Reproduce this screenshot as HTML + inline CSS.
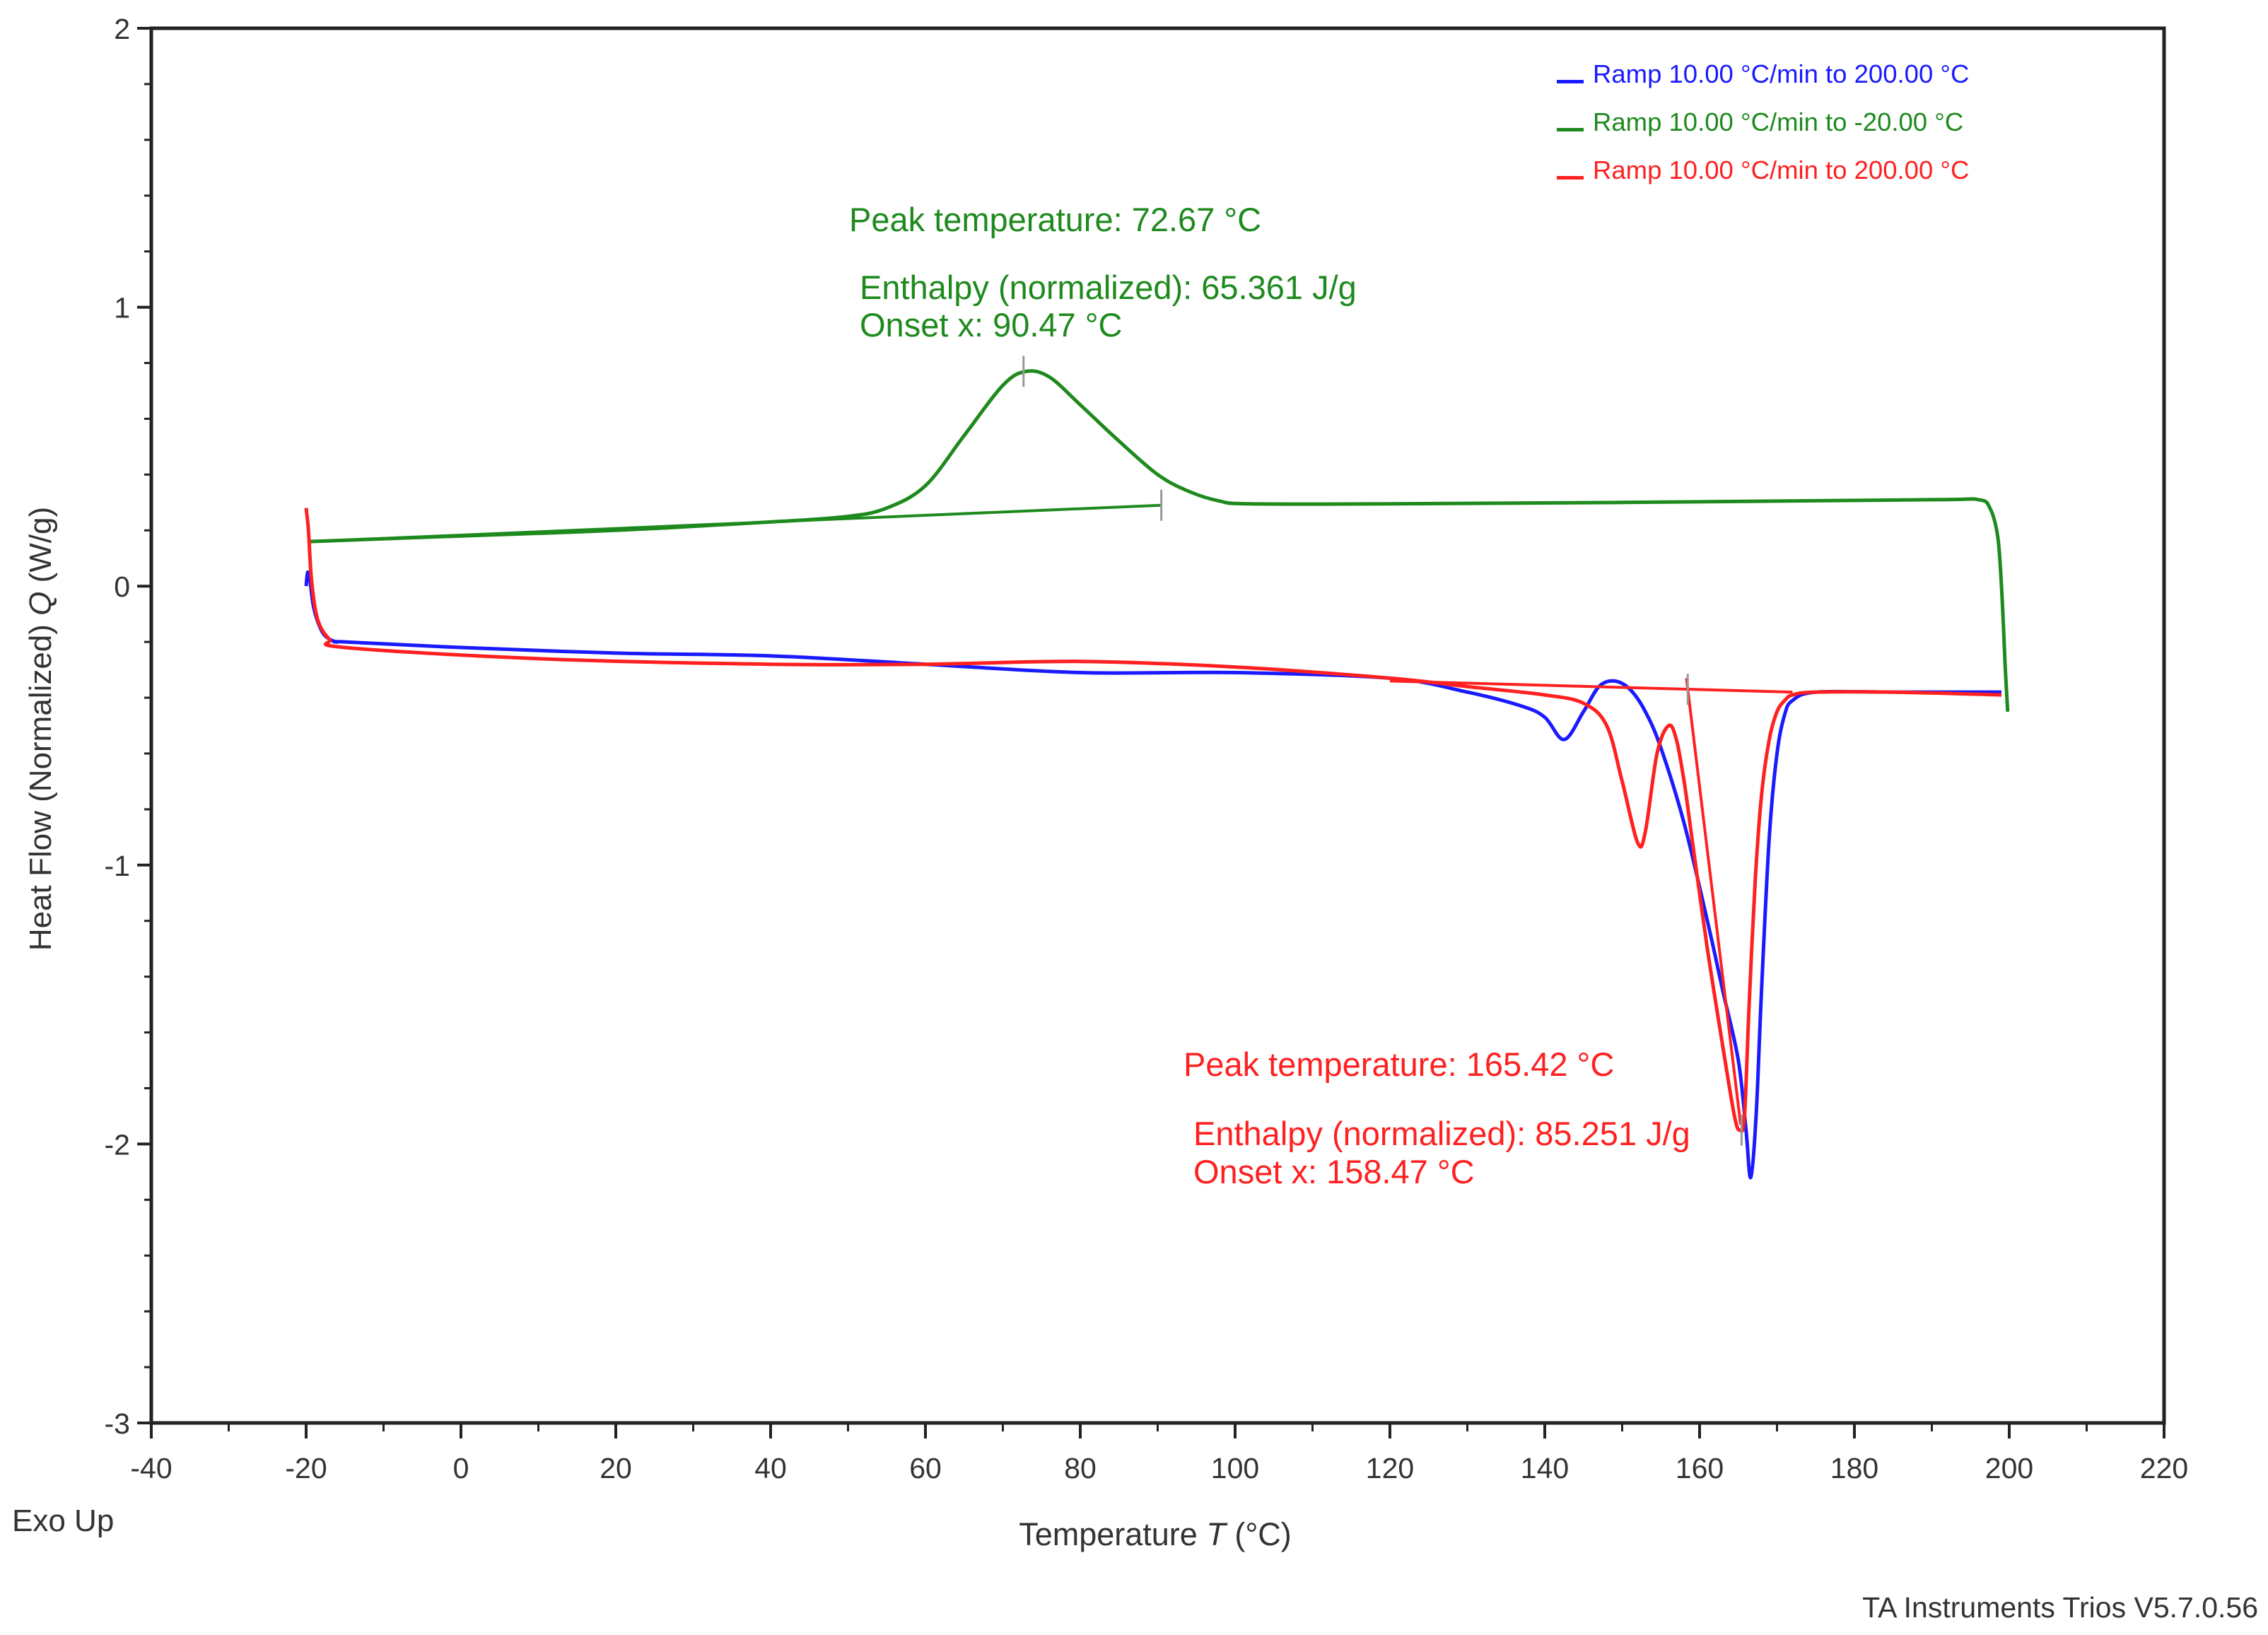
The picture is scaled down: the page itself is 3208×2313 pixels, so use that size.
<!DOCTYPE html>
<html><head><meta charset="utf-8"><style>
html,body{margin:0;padding:0;background:#fff;}
svg{display:block;font-family:"Liberation Sans",sans-serif;}
</style></head><body>
<svg id="chart" width="3208" height="2313" viewBox="0 0 3208 2313" xmlns="http://www.w3.org/2000/svg">
<g id="grid"></g>
<g id="series"></g>
<rect x="214" y="40" width="2847" height="1973" fill="none" stroke="#222" stroke-width="5"/>
<g id="ticks"></g>
<text transform="translate(72,1031) rotate(-90)" text-anchor="middle" font-size="44" fill="#333">Heat Flow (Normalized) <tspan font-style="italic">Q</tspan> (W/g)</text>
<text x="1634" y="2186" text-anchor="middle" font-size="45" fill="#333">Temperature <tspan font-style="italic">T</tspan> (°C)</text>
<text x="17" y="2166" font-size="44" fill="#333">Exo Up</text>
<text x="3194" y="2288" text-anchor="end" font-size="41" fill="#333">TA Instruments Trios V5.7.0.56</text>
<g>
<rect x="2202" y="113" width="38" height="5" fill="#1a1aff"/>
<text x="2253" y="117" font-size="36.5" fill="#1a1aff">Ramp 10.00 °C/min to 200.00 °C</text>
<rect x="2202" y="181" width="38" height="5" fill="#1e8a1e"/>
<text x="2253" y="185" font-size="36.5" fill="#1e8a1e">Ramp 10.00 °C/min to -20.00 °C</text>
<rect x="2202" y="249" width="38" height="5" fill="#ff2020"/>
<text x="2253" y="253" font-size="36.5" fill="#ff2020">Ramp 10.00 °C/min to 200.00 °C</text>
</g>
<g font-size="47" fill="#1e8a1e">
<text x="1201" y="327">Peak temperature: 72.67 °C</text>
<text x="1216" y="423">Enthalpy (normalized): 65.361 J/g</text>
<text x="1216" y="476">Onset x: 90.47 °C</text>
</g>
<g font-size="47" fill="#ff2020">
<text x="1674" y="1522">Peak temperature: 165.42 °C</text>
<text x="1688" y="1620">Enthalpy (normalized): 85.251 J/g</text>
<text x="1688" y="1674">Onset x: 158.47 °C</text>
</g>
</svg>
<script>
const xTicks=[-40,-20,0,20,40,60,80,100,120,140,160,180,200,220];
const yTicks=[2,1,0,-1,-2,-3];
const heat1T=[-20,-19.8,-19.5,-19,-18,-17,-16,-15,0,20,40,60,80,100,120,130,137,140,142.5,145,147,149,151,153,155,158,161,163,165,166,166.6,167.3,168,169,170,171,172,175,185,199];
const heat1Q=[0,0.05,0.02,-0.08,-0.16,-0.19,-0.2,-0.2,-0.22,-0.24,-0.25,-0.28,-0.31,-0.31,-0.33,-0.38,-0.43,-0.47,-0.55,-0.45,-0.36,-0.34,-0.37,-0.45,-0.58,-0.85,-1.2,-1.45,-1.7,-1.95,-2.12,-1.9,-1.45,-0.9,-0.6,-0.46,-0.41,-0.38,-0.38,-0.38];
const coolT=[-19.5,0,20,40,50,55,60,65,70,73,76,80,85,90,94,98,102,120,150,190,196,197.5,198.5,199,199.5,199.8];
const coolQ=[0.16,0.18,0.2,0.23,0.25,0.28,0.36,0.54,0.72,0.77,0.75,0.65,0.52,0.4,0.34,0.305,0.295,0.295,0.3,0.31,0.31,0.28,0.18,0,-0.3,-0.45];
const heat2T=[-20,-19.7,-19.3,-18.5,-17,-15,10,40,60,80,100,120,130,140,145,148,150,152,153,154.5,156,157,158,159,161,163,164.5,165.2,165.8,166.4,167.2,168,169,170,171,172,175,185,199];
const heat2Q=[0.28,0.2,0.02,-0.12,-0.19,-0.22,-0.26,-0.28,-0.28,-0.27,-0.29,-0.33,-0.36,-0.39,-0.42,-0.5,-0.7,-0.92,-0.88,-0.6,-0.5,-0.55,-0.7,-0.9,-1.3,-1.65,-1.9,-1.95,-1.9,-1.5,-1.05,-0.75,-0.55,-0.45,-0.41,-0.39,-0.38,-0.38,-0.39];
const coolBaseT=[-19.5,90.47];
const coolBaseQ=[0.16,0.29];
const meltBaseT=[120,172];
const meltBaseQ=[-0.34,-0.38];
const meltTangentT=[158.3,165.3];
const meltTangentQ=[-0.33,-1.93];
const markerT=[72.67,90.47,158.47,165.42];
const markerQ=[0.77,0.29,-0.37,-1.95];

const X0=214,X1=3061,Y0=40,Y1=2013;
const sx=t=>X0+(t-(-40))/(220-(-40))*(X1-X0);
const sy=q=>Y0+(2-q)/(2-(-3))*(Y1-Y0);
const NS='http://www.w3.org/2000/svg';
function mk(tag,parent,attrs){const e=document.createElementNS(NS,tag);for(const k in attrs)e.setAttribute(k,attrs[k]);parent.appendChild(e);return e;}
function smooth(T,Q){const p=T.map((t,i)=>[sx(t),sy(Q[i])]);let d='M'+p[0][0].toFixed(1)+','+p[0][1].toFixed(1);
for(let i=0;i<p.length-1;i++){const a=p[Math.max(0,i-1)],b=p[i],c=p[i+1],e=p[Math.min(p.length-1,i+2)];
const c1=[b[0]+(c[0]-a[0])/6,b[1]+(c[1]-a[1])/6],c2=[c[0]-(e[0]-b[0])/6,c[1]-(e[1]-b[1])/6];
d+='C'+c1[0].toFixed(1)+','+c1[1].toFixed(1)+' '+c2[0].toFixed(1)+','+c2[1].toFixed(1)+' '+c[0].toFixed(1)+','+c[1].toFixed(1);}return d;}
const ticks=document.getElementById('ticks');
xTicks.forEach(t=>{const l=mk('line',ticks,{x1:sx(t),x2:sx(t),y1:Y1,y2:Y1+22,stroke:'#222','stroke-width':4});

const tx=mk('text',ticks,{x:sx(t),y:Y1+78,'text-anchor':'middle','font-size':41,fill:'#333'});tx.textContent=t;
});
for(let t=-30;t<220;t+=20){const l=mk('line',ticks,{x1:sx(t),x2:sx(t),y1:Y1,y2:Y1+12,stroke:'#222','stroke-width':3});
}
yTicks.forEach(q=>{const l=mk('line',ticks,{x1:X0-20,x2:X0,y1:sy(q),y2:sy(q),stroke:'#222','stroke-width':4});

const tx=mk('text',ticks,{x:X0-30,y:sy(q)+15,'text-anchor':'end','font-size':41,fill:'#333'});tx.textContent=q;
});
for(let q=-2.8;q<2;q+=0.2){if(Math.abs(q-Math.round(q))<0.01)continue;const l=mk('line',ticks,{x1:X0-10,x2:X0,y1:sy(q),y2:sy(q),stroke:'#222','stroke-width':3});
}
const S=document.getElementById('series');
const c1=mk('path',S,{d:smooth(coolT,coolQ),fill:'none',stroke:'#1e8a1e','stroke-width':5});

const b1=mk('path',S,{d:'M'+sx(coolBaseT[0])+','+sy(coolBaseQ[0])+'L'+sx(coolBaseT[1])+','+sy(coolBaseQ[1]),fill:'none',stroke:'#1e8a1e','stroke-width':4});

const h1=mk('path',S,{d:smooth(heat1T,heat1Q),fill:'none',stroke:'#1a1aff','stroke-width':5});

const h2=mk('path',S,{d:smooth(heat2T,heat2Q),fill:'none',stroke:'#ff2020','stroke-width':5});

const b2=mk('path',S,{d:'M'+sx(meltBaseT[0])+','+sy(meltBaseQ[0])+'L'+sx(meltBaseT[1])+','+sy(meltBaseQ[1]),fill:'none',stroke:'#ff2020','stroke-width':4});

const tg=mk('path',S,{d:'M'+sx(meltTangentT[0])+','+sy(meltTangentQ[0])+'L'+sx(meltTangentT[1])+','+sy(meltTangentQ[1]),fill:'none',stroke:'#ff2020','stroke-width':4});

markerT.forEach((t,i)=>{const m=mk('line',S,{x1:sx(t),x2:sx(t),y1:sy(markerQ[i])-22,y2:sy(markerQ[i])+22,stroke:'#999','stroke-width':3});
});
</script>
</body></html>
